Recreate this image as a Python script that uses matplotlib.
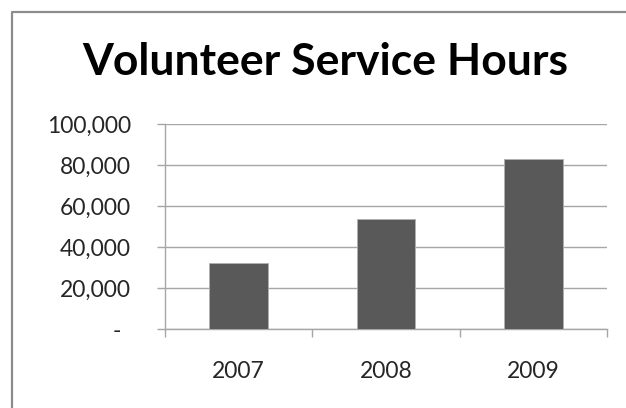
import matplotlib
matplotlib.use("Agg")
from matplotlib import pyplot as plt
from matplotlib.lines import Line2D
from matplotlib.ticker import FixedLocator, FuncFormatter
import matplotlib.transforms as mtransforms

# data
years = ["2007", "2008", "2009"]
hours = [32000, 53500, 83000]
y_ticks = [0, 20000, 40000, 60000, 80000, 100000]

BAR_COLOR = "#595959"
GRID_COLOR = "#a6a6a6"
FONT = "Lato"

W, H = 626, 408
fig = plt.figure(figsize=(W / 100, H / 100), dpi=100)

# outer chart border (only left and top edges are visible)
bx, by = 11.5 / W, 1 - 11.5 / H
fig.add_artist(Line2D([bx, bx, 1.0], [0.0, by, by], transform=fig.transFigure,
                      color="#8c8c8c", lw=1.6))

ax = fig.add_axes([165 / W, (H - 329) / H, 442 / W, 205 / H])

x = list(range(len(years)))
ax.bar(x, hours, width=0.4, color=BAR_COLOR, edgecolor="#b0b0b0", lw=0.6, zorder=3)

ax.set_xlim(-0.5, len(years) - 0.5)
ax.set_ylim(0, 100000)

# y axis
ax.yaxis.set_major_locator(FixedLocator(y_ticks))
ax.yaxis.set_major_formatter(FuncFormatter(lambda v, p: "-" if v == 0 else f"{int(v):,}"))
ax.grid(axis="y", color=GRID_COLOR, lw=1.0, zorder=0)
ax.tick_params(axis="y", length=6, width=1.0, color=GRID_COLOR, pad=18.5,
               labelsize=16.5, labelcolor="#262626")

# x axis: ticks at category boundaries, labels in the middle
ax.xaxis.set_major_locator(FixedLocator([-0.5, 0.5, 1.5, 2.5]))
ax.xaxis.set_major_formatter(FuncFormatter(lambda v, p: ""))
ax.xaxis.set_minor_locator(FixedLocator(x))
ax.set_xticklabels(years, minor=True)
ax.tick_params(axis="x", which="major", length=6, width=1.0, color=GRID_COLOR)
ax.tick_params(axis="x", which="minor", length=0, pad=23, labelsize=16.5,
               labelcolor="#262626")

for lbl in ax.get_yticklabels() + ax.get_xticklabels(minor=True):
    lbl.set_fontfamily(FONT)

# accounting style: the dash sits left of the number ends
zero_lbl = ax.get_yticklabels()[0]
zero_lbl.set_transform(zero_lbl.get_transform() +
                       mtransforms.ScaledTranslation(-10 / 100, 0, fig.dpi_scale_trans))

for side in ["top", "right"]:
    ax.spines[side].set_visible(False)
for side in ["left", "bottom"]:
    ax.spines[side].set_color(GRID_COLOR)
    ax.spines[side].set_linewidth(1.0)

fig.text(325 / W, (H - 62) / H, "Volunteer Service Hours", ha="center", va="center",
         fontsize=32, fontweight="bold", fontfamily=FONT, color="black")

fig.savefig("out.png", dpi=100)
